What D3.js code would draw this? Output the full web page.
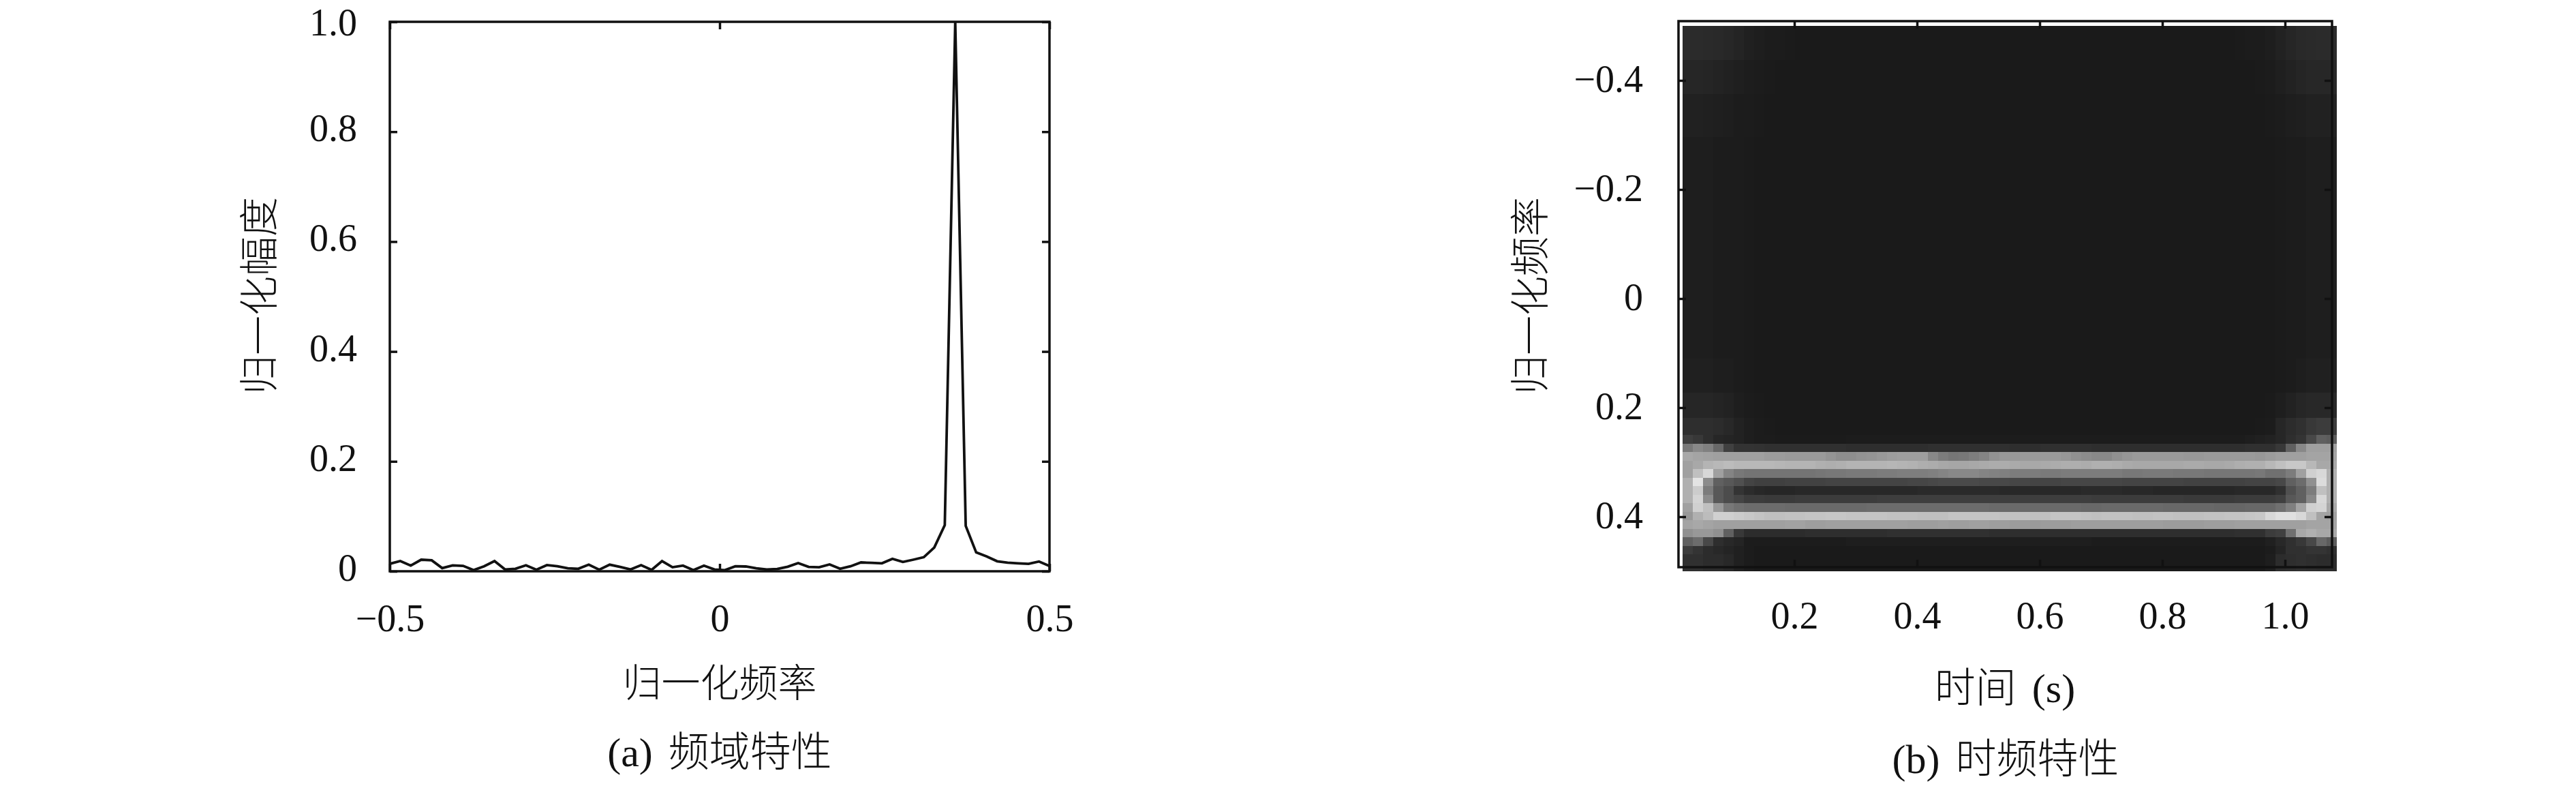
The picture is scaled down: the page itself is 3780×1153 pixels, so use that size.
<!DOCTYPE html>
<html lang="en">
<head>
  <meta charset="UTF-8" />
  <title>频域特性 / 时频特性</title>
  <script src="https://cdnjs.cloudflare.com/ajax/libs/d3/7.8.2/d3.min.js"></script>
  <style>
    body { margin: 0; background: #fff; }
    svg { display: block; }
    text {
      font-family: "Liberation Serif", "Noto Sans CJK SC", serif;
      font-weight: 300;
      fill: #111;
    }
    .tick text { font-size: 56px; }
    .tick line { stroke: #111; stroke-width: 3.5px; }
    .domain { display: none; }
    .label { text-anchor: middle; word-spacing: 8px; }
  </style>
</head>
<body>
<svg id="chart" width="3780" height="1153"></svg>

<script>
/* -------------------------------------------------------
   DATA
------------------------------------------------------- */
// (a) normalised amplitude, 64 samples from -0.5 to 0.5
const amplitude = [
  0.0136, 0.0186, 0.0103, 0.0211, 0.0199, 0.0058, 0.0108, 0.0099,
  0.0021, 0.0091, 0.0186, 0.0033, 0.0045, 0.0108, 0.0029, 0.0112,
  0.0091, 0.0054, 0.0045, 0.0120, 0.0029, 0.0120, 0.0079, 0.0033,
  0.0112, 0.0025, 0.0186, 0.0074, 0.0103, 0.0021, 0.0103, 0.0033,
  0.0021, 0.0091, 0.0087, 0.0054, 0.0033, 0.0041, 0.0083, 0.0149,
  0.0079, 0.0074, 0.0124, 0.0045, 0.0091, 0.0161, 0.0153, 0.0145,
  0.0227, 0.0170, 0.0211, 0.0256, 0.0434, 0.0840, 1.0000, 0.0827,
  0.0343, 0.0269, 0.0182, 0.0157, 0.0145, 0.0136, 0.0178, 0.0095
];
const freqTicks = [-0.5, 0, 0.5];
const ampTicks = [0, 0.2, 0.4, 0.6, 0.8, 1.0];

// (b) spectrogram grey levels, 64 columns per row
const rowTopA = [
  0x2b,0x2b,0x2a,0x29,0x27,0x24,0x20,0x1e, 0x1c,0x1c,0x1b,0x1a,0x1a,0x1a,0x1a,0x1a,
  0x1a,0x1a,0x1a,0x1a,0x1a,0x1a,0x1a,0x1a, 0x1a,0x1a,0x1a,0x1a,0x1a,0x1a,0x1a,0x1a,
  0x1a,0x1a,0x1a,0x1a,0x1a,0x1a,0x1a,0x1a, 0x1a,0x1a,0x1a,0x1a,0x1a,0x1a,0x1a,0x1a,
  0x1a,0x1a,0x1a,0x1a,0x1a,0x1a,0x1b,0x1c, 0x1c,0x1e,0x22,0x26,0x29,0x2a,0x2b,0x2b
];
const rowTopB = [
  0x26,0x26,0x25,0x23,0x21,0x1f,0x1d,0x1c, 0x1b,0x1a,0x1a,0x1a,0x1a,0x1a,0x1a,0x1a,
  0x1a,0x1a,0x1a,0x1a,0x1a,0x1a,0x1a,0x1a, 0x1a,0x1a,0x1a,0x1a,0x1a,0x1a,0x1a,0x1a,
  0x1a,0x1a,0x1a,0x1a,0x1a,0x1a,0x1a,0x1a, 0x1a,0x1a,0x1a,0x1a,0x1a,0x1a,0x1a,0x1a,
  0x1a,0x1a,0x1a,0x1a,0x1a,0x1a,0x1a,0x1a, 0x1b,0x1c,0x1f,0x22,0x25,0x27,0x27,0x27
];
const rowTopC = [
  0x21,0x21,0x20,0x1f,0x1e,0x1c,0x1c,0x1b, 0x1a,0x1a,0x1a,0x1a,0x1a,0x1a,0x1a,0x1a,
  0x1a,0x1a,0x1a,0x1a,0x1a,0x1a,0x1a,0x1a, 0x1a,0x1a,0x1a,0x1a,0x1a,0x1a,0x1a,0x1a,
  0x1a,0x1a,0x1a,0x1a,0x1a,0x1a,0x1a,0x1a, 0x1a,0x1a,0x1a,0x1a,0x1a,0x1a,0x1a,0x1a,
  0x1a,0x1a,0x1a,0x1a,0x1a,0x1a,0x1a,0x1a, 0x1a,0x1b,0x1c,0x1e,0x1f,0x21,0x21,0x21
];
const rowMid = [
  0x1e,0x1e,0x1e,0x1c,0x1c,0x1c,0x1b,0x1a, 0x1a,0x1a,0x1a,0x1a,0x1a,0x1a,0x1a,0x1a,
  0x1a,0x1a,0x1a,0x1a,0x1a,0x1a,0x1a,0x1a, 0x1a,0x1a,0x1a,0x1a,0x1a,0x1a,0x1a,0x1a,
  0x1a,0x1a,0x1a,0x1a,0x1a,0x1a,0x1a,0x1a, 0x1a,0x1a,0x1a,0x1a,0x1a,0x1a,0x1a,0x1a,
  0x1a,0x1a,0x1a,0x1a,0x1a,0x1a,0x1a,0x1a, 0x1a,0x1a,0x1b,0x1c,0x1c,0x1e,0x1e,0x1e
];
const rowLowA = [
  0x20,0x20,0x20,0x1e,0x1e,0x1c,0x1b,0x1a, 0x1a,0x1a,0x1a,0x1a,0x1a,0x1a,0x1a,0x1a,
  0x1a,0x1a,0x1a,0x1a,0x1a,0x1a,0x1a,0x1a, 0x1a,0x1a,0x1a,0x1a,0x1a,0x1a,0x1a,0x1a,
  0x1a,0x1a,0x1a,0x1a,0x1a,0x1a,0x1a,0x1a, 0x1a,0x1a,0x1a,0x1a,0x1a,0x1a,0x1a,0x1a,
  0x1a,0x1a,0x1a,0x1a,0x1a,0x1a,0x1a,0x1a, 0x1a,0x1a,0x1b,0x1c,0x1e,0x20,0x20,0x20
];
const rowLowB = [
  0x26,0x26,0x26,0x24,0x22,0x1e,0x1c,0x1b, 0x1a,0x1a,0x1a,0x1a,0x1a,0x1a,0x1a,0x1a,
  0x1a,0x1a,0x1a,0x1a,0x1a,0x1a,0x1a,0x1a, 0x1a,0x1a,0x1a,0x1a,0x1a,0x1a,0x1a,0x1a,
  0x1a,0x1a,0x1a,0x1a,0x1a,0x1a,0x1a,0x1a, 0x1a,0x1a,0x1a,0x1a,0x1a,0x1a,0x1a,0x1a,
  0x1a,0x1a,0x1a,0x1a,0x1a,0x1a,0x1a,0x1a, 0x1a,0x1b,0x1e,0x22,0x26,0x28,0x28,0x28
];
const rowLowC = [
  0x2e,0x2e,0x2e,0x2c,0x28,0x22,0x1e,0x1c, 0x1b,0x1a,0x1a,0x1a,0x1a,0x1a,0x1a,0x1a,
  0x1a,0x1a,0x1a,0x1a,0x1a,0x1a,0x1a,0x1a, 0x1a,0x1a,0x1a,0x1a,0x1a,0x1a,0x1a,0x1a,
  0x1a,0x1a,0x1a,0x1a,0x1a,0x1a,0x1a,0x1a, 0x1a,0x1a,0x1a,0x1a,0x1a,0x1a,0x1a,0x1a,
  0x1a,0x1a,0x1a,0x1a,0x1a,0x1a,0x1a,0x1a, 0x1b,0x1c,0x26,0x2c,0x30,0x38,0x3c,0x3c
];
const row48 = [
  0x3e,0x38,0x2e,0x26,0x24,0x22,0x1e,0x1c, 0x1c,0x1b,0x1b,0x1b,0x1b,0x1b,0x1b,0x1b,
  0x1c,0x1c,0x1c,0x1c,0x1c,0x1c,0x1c,0x1c, 0x1c,0x1c,0x1c,0x1c,0x1c,0x1c,0x1c,0x1c,
  0x1c,0x1c,0x1c,0x1c,0x1c,0x1c,0x1c,0x1c, 0x1c,0x1c,0x1c,0x1c,0x1c,0x1c,0x1c,0x1c,
  0x1c,0x1c,0x1c,0x1c,0x1c,0x1c,0x1c,0x1e, 0x20,0x22,0x26,0x2e,0x34,0x48,0x60,0x5c
];
const row49 = [
  0x78,0x88,0x80,0x68,0x40,0x33,0x33,0x32, 0x30,0x30,0x30,0x30,0x30,0x30,0x30,0x30,
  0x2e,0x2e,0x2e,0x2e,0x2e,0x2e,0x2e,0x2e, 0x30,0x30,0x30,0x30,0x30,0x30,0x30,0x30,
  0x2e,0x2e,0x2e,0x30,0x30,0x30,0x30,0x30, 0x2e,0x2e,0x2e,0x2e,0x2e,0x2e,0x2e,0x2e,
  0x2e,0x2e,0x2e,0x2e,0x2e,0x2e,0x2e,0x30, 0x30,0x30,0x38,0x60,0x88,0xa0,0xa0,0xa0
];
const row50 = [
  0xa8,0xa4,0xa2,0xa0,0xa0,0xa0,0xa0,0xa0, 0x9c,0x9c,0x9a,0x9a,0x9a,0x9a,0x94,0x8e,
  0x8e,0x92,0x94,0x98,0x9c,0x9e,0x9e,0x9e, 0x88,0x7c,0x76,0x78,0x7e,0x84,0x92,0x98,
  0x98,0x9a,0x9a,0x9a,0x9a,0x96,0x90,0x8c, 0x88,0x88,0x90,0x96,0x9a,0x9a,0x9a,0x9a,
  0x9a,0x98,0x98,0x9a,0x9a,0x9a,0x9a,0x9a, 0x98,0x9c,0xa0,0xa0,0xa0,0xa4,0xa4,0xa4
];
const row51 = [
  0xa0,0xa8,0xb4,0xb8,0xbc,0xb8,0xb8,0xb8, 0xb8,0xb6,0xb4,0xb4,0xb4,0xb0,0xae,0xb0,
  0xb4,0xb4,0xb4,0xb4,0xb6,0xb4,0xb2,0xae, 0xac,0xa8,0xa6,0xa6,0xa8,0xaa,0xac,0xac,
  0xaa,0xa8,0xa8,0xaa,0xac,0xae,0xae,0xac, 0xb0,0xb0,0xae,0xaa,0xa8,0xa8,0xa8,0xa8,
  0xa8,0xaa,0xaa,0xa8,0xa8,0xaa,0xae,0xb0, 0xb0,0xb8,0xc0,0xc8,0xc8,0xb8,0xa8,0xa8
];
const row52 = [
  0xa0,0xc0,0xd8,0xa0,0x84,0x78,0x74,0x74, 0x74,0x74,0x74,0x74,0x74,0x76,0x78,0x78,
  0x7a,0x7a,0x7a,0x7c,0x7c,0x7e,0x7e,0x7e, 0x80,0x84,0x88,0x88,0x88,0x84,0x82,0x80,
  0x7c,0x7c,0x7c,0x7a,0x7a,0x7c,0x7c,0x7c, 0x7c,0x7c,0x7c,0x78,0x78,0x7a,0x7a,0x7a,
  0x78,0x78,0x78,0x76,0x76,0x76,0x76,0x76, 0x78,0x70,0x70,0x7c,0xa0,0xd0,0xd8,0xb0
];
const row53 = [
  0xb0,0xe4,0x8c,0x60,0x58,0x50,0x44,0x40, 0x40,0x40,0x42,0x42,0x42,0x42,0x44,0x44,
  0x44,0x44,0x44,0x44,0x44,0x44,0x46,0x46, 0x48,0x4a,0x4a,0x4a,0x4a,0x48,0x48,0x48,
  0x46,0x46,0x44,0x44,0x44,0x46,0x46,0x46, 0x46,0x46,0x46,0x44,0x44,0x44,0x44,0x44,
  0x44,0x42,0x42,0x42,0x42,0x42,0x42,0x44, 0x44,0x44,0x48,0x60,0x6c,0x90,0xdc,0xb0
];
const row54 = [
  0xb0,0xcc,0x7c,0x58,0x4c,0x34,0x2c,0x28, 0x26,0x26,0x26,0x28,0x28,0x28,0x28,0x28,
  0x28,0x28,0x28,0x28,0x28,0x28,0x28,0x2a, 0x2a,0x2a,0x2a,0x2a,0x2a,0x2a,0x2a,0x28,
  0x28,0x28,0x28,0x28,0x28,0x28,0x28,0x2a, 0x2a,0x2a,0x2a,0x28,0x28,0x28,0x26,0x26,
  0x26,0x26,0x26,0x26,0x26,0x26,0x28,0x28, 0x28,0x28,0x30,0x50,0x60,0x7c,0xc0,0xb0
];
const row55 = [
  0xb0,0xd4,0x8c,0x58,0x4c,0x44,0x3c,0x3c, 0x3a,0x3a,0x3a,0x3c,0x3c,0x3c,0x3c,0x3c,
  0x3c,0x3c,0x3c,0x3e,0x3e,0x3e,0x3e,0x3e, 0x3e,0x3e,0x3e,0x3e,0x3e,0x3e,0x3e,0x3e,
  0x3e,0x3e,0x3e,0x3e,0x3e,0x3e,0x3e,0x3e, 0x3c,0x3c,0x3c,0x3c,0x3c,0x3c,0x3c,0x3c,
  0x3c,0x3a,0x3a,0x3a,0x3a,0x3a,0x3c,0x3c, 0x3c,0x3c,0x40,0x58,0x60,0x88,0xd8,0xb0
];
const row56 = [
  0xa0,0xd0,0xc0,0x98,0x78,0x70,0x6c,0x6c, 0x6c,0x6c,0x6a,0x6a,0x6a,0x6a,0x6a,0x6a,
  0x6a,0x6a,0x6c,0x6c,0x6c,0x6c,0x6c,0x6c, 0x6c,0x6c,0x6c,0x6c,0x6c,0x6c,0x6a,0x6a,
  0x6a,0x6a,0x6a,0x6a,0x6a,0x6a,0x6a,0x68, 0x68,0x6a,0x6a,0x6a,0x6a,0x6a,0x6a,0x68,
  0x68,0x68,0x68,0x68,0x66,0x66,0x66,0x68, 0x68,0x68,0x70,0x80,0xa4,0xd0,0xd4,0xa8
];
const row57 = [
  0x98,0xb0,0xbc,0xd0,0xd0,0xcc,0xc8,0xc4, 0xc0,0xc0,0xc2,0xc2,0xc4,0xc4,0xc6,0xc6,
  0xc4,0xc4,0xc4,0xc4,0xc2,0xc2,0xc2,0xc0, 0xc0,0xc0,0xc4,0xc4,0xc4,0xc4,0xc4,0xc2,
  0xc2,0xc2,0xc0,0xc0,0xc4,0xc4,0xc4,0xc2, 0xc0,0xc2,0xc2,0xc2,0xc0,0xc0,0xc2,0xc2,
  0xc0,0xc0,0xc0,0xc2,0xc2,0xc4,0xc4,0xc6, 0xc8,0xd8,0xe0,0xe0,0xd8,0xc0,0xa4,0xa0
];
const row58 = [
  0xa4,0xa8,0xa4,0xa0,0xa0,0xa0,0xa0,0xa0, 0xa0,0xa0,0xa2,0xa2,0x9e,0x9e,0xa0,0xa0,
  0xa0,0xa0,0xa0,0xa0,0xa0,0xa0,0x9e,0x9e, 0x9e,0xa0,0x9e,0x9e,0xa0,0xa0,0x9e,0x9e,
  0x9c,0x9c,0x9a,0x9c,0x9c,0x9c,0x9e,0x9e, 0x9e,0x9e,0x9e,0x9e,0x9e,0x9e,0x9e,0x9c,
  0x9c,0x9c,0x9c,0x9e,0x9e,0x9e,0xa0,0xa0, 0xa0,0xa0,0xa0,0xa0,0xa0,0xa4,0xa4,0xa4
];
const row59 = [
  0x90,0x98,0x98,0x90,0x60,0x38,0x2c,0x2c, 0x2c,0x2c,0x2c,0x2c,0x2e,0x2e,0x2e,0x2e,
  0x2e,0x2e,0x2e,0x2e,0x30,0x30,0x30,0x30, 0x30,0x30,0x30,0x30,0x30,0x30,0x2e,0x2e,
  0x2e,0x2e,0x2e,0x2e,0x2e,0x2e,0x2e,0x2e, 0x2e,0x2e,0x2e,0x2e,0x2e,0x2e,0x2e,0x2e,
  0x2e,0x2e,0x2e,0x2e,0x2e,0x2e,0x30,0x30, 0x30,0x3c,0x40,0x70,0xa8,0xb0,0xa8,0xa8
];
const row60 = [
  0x60,0x6c,0x48,0x2e,0x28,0x24,0x1c,0x1c, 0x1c,0x1c,0x1c,0x1c,0x1c,0x1c,0x1c,0x1c,
  0x1e,0x1e,0x1e,0x1e,0x1e,0x1e,0x1e,0x1e, 0x1e,0x1e,0x1e,0x1e,0x1e,0x1e,0x1e,0x1e,
  0x1e,0x1e,0x1e,0x1e,0x1e,0x1e,0x1e,0x1e, 0x1c,0x1c,0x1c,0x1c,0x1c,0x1c,0x1c,0x1c,
  0x1c,0x1c,0x1c,0x1c,0x1c,0x1c,0x1c,0x1c, 0x1c,0x20,0x28,0x30,0x38,0x48,0x68,0x5c
];
const row61 = [
  0x3c,0x34,0x2c,0x28,0x24,0x20,0x1c,0x1a, 0x1a,0x1a,0x1a,0x1a,0x1a,0x1a,0x1a,0x1a,
  0x1a,0x1a,0x1a,0x1a,0x1a,0x1a,0x1a,0x1a, 0x1a,0x1a,0x1a,0x1a,0x1a,0x1a,0x1a,0x1a,
  0x1a,0x1a,0x1a,0x1a,0x1a,0x1a,0x1a,0x1a, 0x1a,0x1a,0x1a,0x1a,0x1a,0x1a,0x1a,0x1a,
  0x1a,0x1a,0x1a,0x1a,0x1a,0x1a,0x1a,0x1a, 0x1a,0x1c,0x24,0x30,0x30,0x34,0x34,0x30
];
const rowBottom = [
  0x30,0x30,0x2c,0x2c,0x28,0x20,0x1c,0x1a, 0x1a,0x1a,0x1a,0x1a,0x1a,0x1a,0x1a,0x1a,
  0x1a,0x1a,0x1a,0x1a,0x1a,0x1a,0x1a,0x1a, 0x1a,0x1a,0x1a,0x1a,0x1a,0x1a,0x1a,0x1a,
  0x1a,0x1a,0x1a,0x1a,0x1a,0x1a,0x1a,0x1a, 0x1a,0x1a,0x1a,0x1a,0x1a,0x1a,0x1a,0x1a,
  0x1a,0x1a,0x1a,0x1a,0x1a,0x1a,0x1a,0x1a, 0x1a,0x1e,0x2c,0x2e,0x30,0x2e,0x2c,0x2c
];
// rows from the top of the image (frequency -0.5) to the bottom (0.5)
const spectrogram = [
  rowTopA, rowTopA, rowTopA, rowTopA,
  rowTopB, rowTopB, rowTopB, rowTopB,
  rowTopC, rowTopC, rowTopC, rowTopC, rowTopC,
  rowMid, rowMid, rowMid, rowMid, rowMid, rowMid, rowMid, rowMid, rowMid, rowMid, rowMid, rowMid, rowMid,
  rowMid, rowMid, rowMid, rowMid, rowMid, rowMid, rowMid, rowMid, rowMid, rowMid, rowMid, rowMid, rowMid,
  rowLowA, rowLowA, rowLowA, rowLowA,
  rowLowB, rowLowB, rowLowB,
  rowLowC, rowLowC,
  row48, row49, row50, row51, row52, row53, row54, row55, row56, row57, row58, row59, row60, row61,
  rowBottom, rowBottom
];
const timeTicks = [0.2, 0.4, 0.6, 0.8, 1.0];
const specFreqTicks = [-0.4, -0.2, 0, 0.2, 0.4];
const firstTime = 0.0178;   // left edge of the first column
const timeStep = 1 / 60;
const firstFreq = -0.5;     // top edge of the first row
const freqStep = 1 / 64;

const labelsA = { x: "归一化频率", y: "归一化幅度", caption: "(a) 频域特性" };
const labelsB = { x: "时间 (s)", y: "归一化频率", caption: "(b) 时频特性" };

/* -------------------------------------------------------
   SETUP
------------------------------------------------------- */
const svg = d3.select("#chart");
const tickLen = 11;
const fmt = d => d === 0 ? "0" : d3.format(".1f")(d);

function addLabel(text, x, y, size, rotate) {
  svg.append("text")
    .attr("class", "label")
    .attr("font-size", size)
    .attr("transform", `translate(${x},${y})` + (rotate ? " rotate(-90)" : ""))
    .text(text);
}

/* -------------------------------------------------------
   (a) SPECTRUM
------------------------------------------------------- */
const frameA = { left: 572, right: 1540, top: 32, bottom: 838 };
const xFreq = d3.scaleLinear().domain([-0.5, 0.5]).range([frameA.left, frameA.right]);
const yAmp = d3.scaleLinear().domain([0, 1]).range([frameA.bottom, frameA.top]);

svg.append("clipPath").attr("id", "clipA").append("rect")
  .attr("x", frameA.left).attr("y", frameA.top)
  .attr("width", frameA.right - frameA.left).attr("height", frameA.bottom - frameA.top);

svg.append("path")
  .datum(amplitude)
  .attr("clip-path", "url(#clipA)")
  .attr("fill", "none")
  .attr("stroke", "#111")
  .attr("stroke-width", 3.8)
  .attr("d", d3.line()
    .x((d, i) => xFreq(-0.5 + i / (amplitude.length - 1)))
    .y(d => yAmp(d)));

svg.append("g").attr("transform", `translate(0,${frameA.bottom})`)
  .call(d3.axisBottom(xFreq).tickValues(freqTicks).tickFormat(fmt).tickSize(-tickLen).tickPadding(48));
svg.append("g").attr("transform", `translate(0,${frameA.top})`)
  .call(d3.axisTop(xFreq).tickValues(freqTicks).tickFormat("").tickSize(-tickLen));
// the top label is nudged down just enough to stay inside the page
svg.append("g").attr("transform", `translate(${frameA.left},0)`)
  .call(d3.axisLeft(yAmp).tickValues(ampTicks).tickFormat(fmt).tickSize(-tickLen).tickPadding(48))
  .selectAll("text").attr("dy", d => d === 1 ? "0.34em" : "0.24em");
svg.append("g").attr("transform", `translate(${frameA.right},0)`)
  .call(d3.axisRight(yAmp).tickValues(ampTicks).tickFormat("").tickSize(-tickLen));

svg.append("rect")
  .attr("x", frameA.left).attr("y", frameA.top)
  .attr("width", frameA.right - frameA.left).attr("height", frameA.bottom - frameA.top)
  .attr("fill", "none").attr("stroke", "#111").attr("stroke-width", 3.5);

addLabel(labelsA.x, 1056, 1022, 57);
addLabel(labelsA.caption, 1056, 1124, 60);
addLabel(labelsA.y, 401, 434, 58, true);

/* -------------------------------------------------------
   (b) SPECTROGRAM
   The frame sits a few pixels up and left of the image, as in the original
------------------------------------------------------- */
const frameB = { left: 2463, right: 3422, top: 31, bottom: 832 };
const xTime = d3.scaleLinear().domain([0.2, 1.0]).range([2633, 3353]);
const yFreq = d3.scaleLinear().domain([-0.4, 0.4]).range([118, 758]);
const grey = d3.scaleLinear().domain([0, 255]).range(["#000", "#fff"]);

const cells = svg.append("g").attr("shape-rendering", "crispEdges");
spectrogram.forEach((row, r) => {
  cells.selectAll(null)
    .data(row)
    .enter()
    .append("rect")
    .attr("x", (d, c) => xTime(firstTime + c * timeStep))
    .attr("y", yFreq(firstFreq + r * freqStep))
    .attr("width", xTime(timeStep) - xTime(0))
    .attr("height", yFreq(freqStep) - yFreq(0))
    .attr("fill", d => grey(d));
});

svg.append("g").attr("transform", `translate(0,${frameB.bottom})`)
  .call(d3.axisBottom(xTime).tickValues(timeTicks).tickFormat(fmt).tickSize(-tickLen).tickPadding(50));
svg.append("g").attr("transform", `translate(0,${frameB.top})`)
  .call(d3.axisTop(xTime).tickValues(timeTicks).tickFormat("").tickSize(-tickLen));
svg.append("g").attr("transform", `translate(${frameB.left},0)`)
  .call(d3.axisLeft(yFreq).tickValues(specFreqTicks).tickFormat(fmt).tickSize(-tickLen).tickPadding(52))
  .selectAll("text").attr("dy", "0.29em");
svg.append("g").attr("transform", `translate(${frameB.right},0)`)
  .call(d3.axisRight(yFreq).tickValues(specFreqTicks).tickFormat("").tickSize(-tickLen));

svg.append("rect")
  .attr("x", frameB.left).attr("y", frameB.top)
  .attr("width", frameB.right - frameB.left).attr("height", frameB.bottom - frameB.top)
  .attr("fill", "none").attr("stroke", "#111").attr("stroke-width", 3.5);

addLabel(labelsB.x, 2942, 1030, 60);
addLabel(labelsB.caption, 2943, 1134, 60);
addLabel(labelsB.y, 2266, 434, 58, true);
</script>

</body>
</html>
